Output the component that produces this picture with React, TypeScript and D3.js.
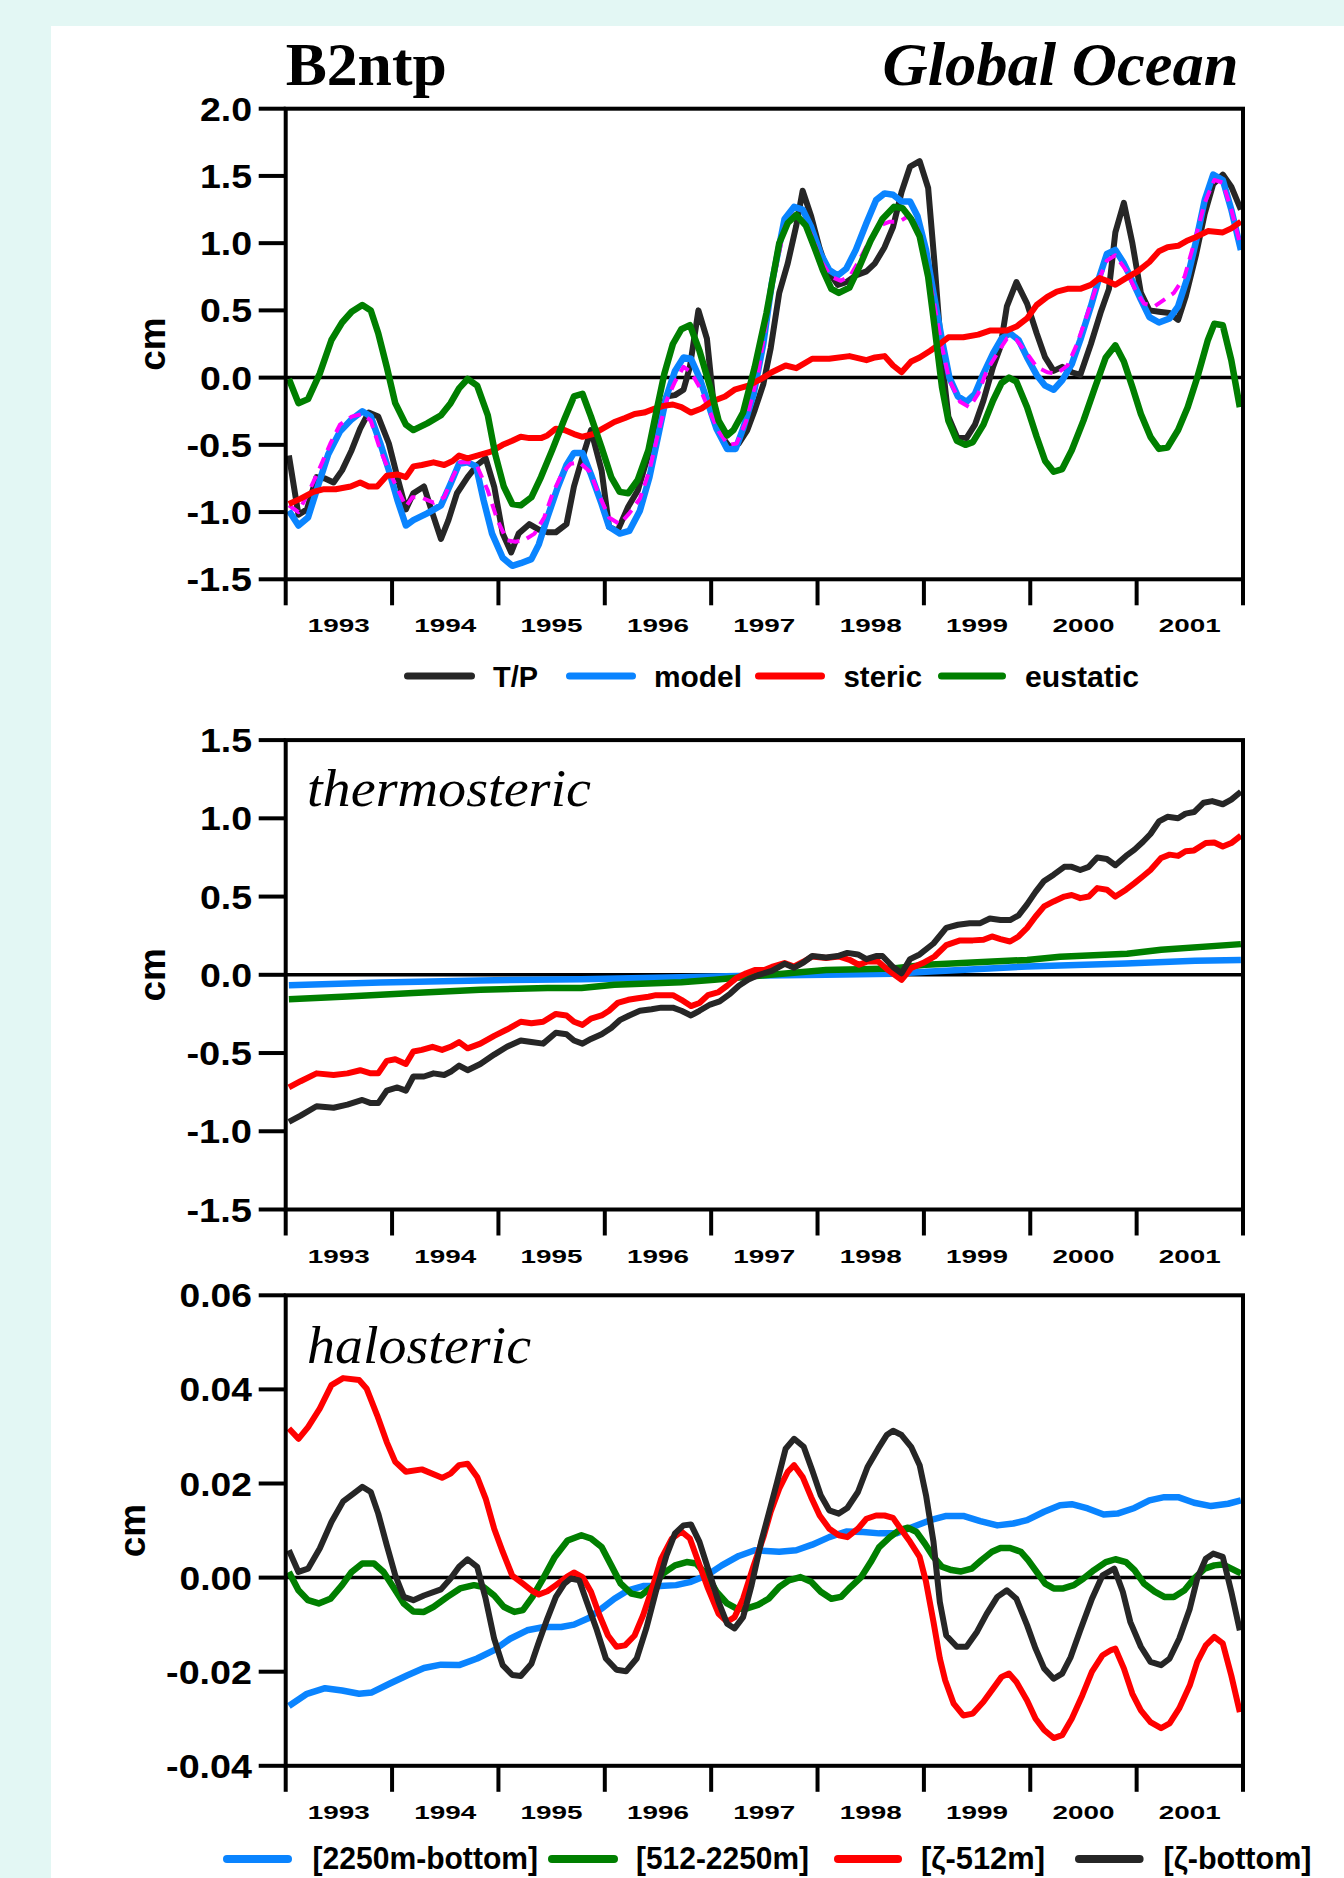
import React from "react";
import * as d3 from "d3";

type Pt = [number, number];

// ---------- shared axis data ----------
const yearLabels = [1993, 1994, 1995, 1996, 1997, 1998, 1999, 2000, 2001];
const yearTicks = [1993, 1994, 1995, 1996, 1997, 1998, 1999, 2000, 2001, 2002];
const p1Ticks = [-1.5, -1.0, -0.5, 0.0, 0.5, 1.0, 1.5, 2.0];
const p2Ticks = [-1.5, -1.0, -0.5, 0.0, 0.5, 1.0, 1.5];
const p3Ticks = [-0.04, -0.02, 0.0, 0.02, 0.04, 0.06];

// ---------- panel 1: B2ntp Global Ocean ----------
const p1TP: Pt[] = [[1993.03,-0.58],[1993.12,-1.02],[1993.20,-0.98],[1993.29,-0.74],[1993.37,-0.75],[1993.45,-0.78],[1993.53,-0.69],[1993.62,-0.54],[1993.70,-0.38],[1993.78,-0.26],[1993.87,-0.29],[1993.97,-0.49],[1994.05,-0.74],[1994.13,-0.98],[1994.20,-0.86],[1994.30,-0.81],[1994.38,-1.01],[1994.46,-1.20],[1994.53,-1.06],[1994.61,-0.86],[1994.71,-0.74],[1994.80,-0.65],[1994.88,-0.60],[1994.96,-0.81],[1995.04,-1.16],[1995.12,-1.30],[1995.19,-1.16],[1995.29,-1.09],[1995.38,-1.13],[1995.46,-1.15],[1995.54,-1.15],[1995.64,-1.09],[1995.71,-0.81],[1995.78,-0.62],[1995.87,-0.39],[1995.97,-0.69],[1996.04,-1.11],[1996.12,-1.14],[1996.22,-0.96],[1996.31,-0.84],[1996.41,-0.57],[1996.50,-0.32],[1996.58,-0.14],[1996.66,-0.13],[1996.74,-0.09],[1996.80,0.08],[1996.88,0.50],[1996.96,0.29],[1997.02,-0.17],[1997.10,-0.44],[1997.18,-0.52],[1997.26,-0.49],[1997.34,-0.39],[1997.41,-0.24],[1997.49,-0.05],[1997.56,0.22],[1997.64,0.63],[1997.72,0.85],[1997.80,1.13],[1997.86,1.39],[1997.94,1.20],[1998.02,0.96],[1998.09,0.80],[1998.19,0.69],[1998.27,0.71],[1998.36,0.76],[1998.46,0.79],[1998.54,0.85],[1998.63,0.97],[1998.71,1.12],[1998.79,1.38],[1998.87,1.57],[1998.96,1.61],[1999.04,1.41],[1999.10,0.85],[1999.17,0.13],[1999.23,-0.29],[1999.31,-0.44],[1999.40,-0.45],[1999.48,-0.35],[1999.56,-0.17],[1999.65,0.08],[1999.72,0.23],[1999.78,0.53],[1999.87,0.71],[1999.97,0.55],[2000.06,0.33],[2000.14,0.15],[2000.22,0.05],[2000.30,0.08],[2000.39,0.04],[2000.47,0.02],[2000.57,0.25],[2000.66,0.48],[2000.74,0.66],[2000.80,1.08],[2000.88,1.30],[2000.96,1.00],[2001.04,0.63],[2001.12,0.50],[2001.21,0.49],[2001.31,0.48],[2001.39,0.43],[2001.46,0.60],[2001.56,0.92],[2001.64,1.22],[2001.72,1.44],[2001.81,1.51],[2001.89,1.42],[2001.98,1.25]];

const p1Model: Pt[] = [[1993.03,-0.99],[1993.12,-1.10],[1993.21,-1.04],[1993.31,-0.79],[1993.40,-0.57],[1993.51,-0.40],[1993.62,-0.31],[1993.72,-0.25],[1993.80,-0.29],[1993.89,-0.49],[1993.97,-0.69],[1994.05,-0.91],[1994.13,-1.10],[1994.20,-1.06],[1994.33,-1.01],[1994.46,-0.95],[1994.55,-0.79],[1994.63,-0.64],[1994.71,-0.63],[1994.79,-0.66],[1994.86,-0.91],[1994.94,-1.16],[1995.04,-1.34],[1995.13,-1.40],[1995.21,-1.38],[1995.31,-1.35],[1995.38,-1.24],[1995.46,-1.04],[1995.56,-0.81],[1995.64,-0.65],[1995.71,-0.56],[1995.79,-0.56],[1995.87,-0.72],[1995.97,-0.94],[1996.04,-1.11],[1996.14,-1.16],[1996.23,-1.14],[1996.33,-0.99],[1996.42,-0.74],[1996.50,-0.44],[1996.58,-0.14],[1996.66,0.05],[1996.74,0.15],[1996.81,0.14],[1996.89,0.00],[1996.97,-0.19],[1997.05,-0.38],[1997.15,-0.53],[1997.23,-0.53],[1997.30,-0.38],[1997.40,-0.12],[1997.49,0.25],[1997.57,0.70],[1997.69,1.18],[1997.78,1.27],[1997.86,1.25],[1997.94,1.12],[1998.03,0.92],[1998.11,0.80],[1998.19,0.76],[1998.27,0.81],[1998.36,0.95],[1998.46,1.15],[1998.55,1.32],[1998.63,1.37],[1998.71,1.36],[1998.79,1.31],[1998.87,1.31],[1998.94,1.20],[1999.02,0.95],[1999.09,0.63],[1999.17,0.28],[1999.24,0.00],[1999.32,-0.14],[1999.40,-0.18],[1999.48,-0.12],[1999.56,0.03],[1999.65,0.18],[1999.73,0.29],[1999.81,0.33],[1999.89,0.28],[1999.97,0.15],[2000.06,0.02],[2000.14,-0.06],[2000.22,-0.09],[2000.30,-0.02],[2000.39,0.10],[2000.47,0.28],[2000.57,0.53],[2000.65,0.75],[2000.72,0.92],[2000.80,0.95],[2000.88,0.85],[2000.96,0.72],[2001.04,0.58],[2001.12,0.45],[2001.21,0.41],[2001.31,0.44],[2001.39,0.53],[2001.48,0.75],[2001.56,1.02],[2001.64,1.32],[2001.72,1.51],[2001.81,1.47],[2001.89,1.25],[2001.98,0.95]];

const p1Dashed: Pt[] = [[1993.03,-0.95],[1993.12,-1.00],[1993.21,-0.86],[1993.31,-0.69],[1993.42,-0.49],[1993.51,-0.35],[1993.62,-0.29],[1993.72,-0.27],[1993.80,-0.32],[1993.89,-0.54],[1993.98,-0.71],[1994.06,-0.84],[1994.13,-0.96],[1994.19,-0.89],[1994.27,-0.89],[1994.39,-0.93],[1994.49,-0.89],[1994.57,-0.74],[1994.64,-0.63],[1994.72,-0.63],[1994.80,-0.66],[1994.90,-0.84],[1994.99,-1.06],[1995.08,-1.21],[1995.16,-1.22],[1995.24,-1.21],[1995.34,-1.16],[1995.43,-1.04],[1995.51,-0.86],[1995.60,-0.71],[1995.68,-0.64],[1995.76,-0.63],[1995.86,-0.70],[1995.95,-0.88],[1996.04,-1.04],[1996.14,-1.09],[1996.23,-1.01],[1996.33,-0.90],[1996.42,-0.69],[1996.50,-0.42],[1996.58,-0.17],[1996.66,-0.03],[1996.74,0.08],[1996.81,0.04],[1996.89,-0.07],[1996.99,-0.26],[1997.07,-0.40],[1997.16,-0.50],[1997.24,-0.49],[1997.33,-0.32],[1997.44,0.03],[1997.57,0.67],[1997.69,1.12],[1997.78,1.21],[1997.87,1.17],[1997.95,1.05],[1998.03,0.87],[1998.13,0.75],[1998.22,0.72],[1998.31,0.76],[1998.39,0.87],[1998.49,1.02],[1998.58,1.13],[1998.68,1.16],[1998.77,1.16],[1998.85,1.20],[1998.93,1.13],[1999.01,0.90],[1999.09,0.58],[1999.17,0.23],[1999.24,-0.02],[1999.34,-0.18],[1999.43,-0.22],[1999.51,-0.12],[1999.59,0.05],[1999.69,0.18],[1999.78,0.29],[1999.87,0.28],[1999.97,0.18],[2000.06,0.08],[2000.16,0.04],[2000.25,0.03],[2000.35,0.09],[2000.44,0.25],[2000.54,0.48],[2000.63,0.70],[2000.72,0.87],[2000.80,0.91],[2000.90,0.80],[2000.99,0.65],[2001.07,0.55],[2001.17,0.53],[2001.26,0.58],[2001.35,0.63],[2001.45,0.75],[2001.54,1.00],[2001.64,1.30],[2001.73,1.47],[2001.81,1.45],[2001.89,1.25],[2001.98,0.97]];

const p1Steric: Pt[] = [[1993.03,-0.94],[1993.14,-0.90],[1993.26,-0.85],[1993.36,-0.83],[1993.47,-0.83],[1993.61,-0.81],[1993.70,-0.78],[1993.78,-0.81],[1993.86,-0.81],[1993.95,-0.73],[1994.05,-0.72],[1994.13,-0.74],[1994.20,-0.66],[1994.28,-0.65],[1994.39,-0.63],[1994.49,-0.65],[1994.57,-0.62],[1994.63,-0.58],[1994.71,-0.60],[1994.80,-0.58],[1994.93,-0.55],[1995.04,-0.50],[1995.13,-0.47],[1995.21,-0.44],[1995.29,-0.45],[1995.40,-0.45],[1995.46,-0.43],[1995.54,-0.38],[1995.62,-0.39],[1995.71,-0.42],[1995.79,-0.44],[1995.89,-0.42],[1995.98,-0.38],[1996.09,-0.33],[1996.19,-0.30],[1996.28,-0.27],[1996.37,-0.26],[1996.47,-0.23],[1996.55,-0.21],[1996.64,-0.20],[1996.72,-0.22],[1996.81,-0.26],[1996.91,-0.23],[1997.00,-0.18],[1997.13,-0.14],[1997.22,-0.09],[1997.35,-0.06],[1997.47,-0.01],[1997.57,0.04],[1997.70,0.09],[1997.80,0.07],[1997.95,0.14],[1998.11,0.14],[1998.30,0.16],[1998.46,0.13],[1998.54,0.15],[1998.63,0.16],[1998.71,0.09],[1998.79,0.04],[1998.88,0.12],[1998.96,0.15],[1999.06,0.20],[1999.15,0.25],[1999.23,0.30],[1999.37,0.30],[1999.51,0.32],[1999.62,0.35],[1999.78,0.35],[1999.87,0.38],[1999.97,0.44],[2000.06,0.54],[2000.16,0.60],[2000.25,0.64],[2000.35,0.66],[2000.47,0.66],[2000.57,0.69],[2000.65,0.74],[2000.72,0.72],[2000.80,0.69],[2000.90,0.74],[2001.01,0.79],[2001.12,0.86],[2001.21,0.94],[2001.29,0.97],[2001.39,0.98],[2001.48,1.02],[2001.57,1.05],[2001.67,1.09],[2001.81,1.08],[2001.89,1.11],[2001.98,1.16]];

const p1Eustatic: Pt[] = [[1993.03,-0.01],[1993.12,-0.19],[1993.21,-0.16],[1993.32,0.03],[1993.43,0.28],[1993.53,0.41],[1993.62,0.49],[1993.72,0.54],[1993.80,0.50],[1993.87,0.33],[1993.95,0.08],[1994.03,-0.19],[1994.13,-0.35],[1994.20,-0.39],[1994.33,-0.34],[1994.46,-0.28],[1994.55,-0.19],[1994.63,-0.08],[1994.71,-0.01],[1994.80,-0.06],[1994.90,-0.28],[1994.97,-0.57],[1995.05,-0.81],[1995.13,-0.94],[1995.21,-0.95],[1995.31,-0.89],[1995.40,-0.74],[1995.51,-0.53],[1995.62,-0.31],[1995.71,-0.14],[1995.79,-0.12],[1995.87,-0.29],[1995.97,-0.52],[1996.06,-0.74],[1996.14,-0.85],[1996.22,-0.86],[1996.31,-0.76],[1996.41,-0.54],[1996.48,-0.27],[1996.56,0.03],[1996.64,0.25],[1996.72,0.36],[1996.80,0.39],[1996.89,0.20],[1996.99,-0.07],[1997.07,-0.32],[1997.15,-0.43],[1997.21,-0.39],[1997.30,-0.26],[1997.41,0.08],[1997.52,0.48],[1997.64,1.00],[1997.72,1.15],[1997.80,1.21],[1997.89,1.13],[1997.97,0.97],[1998.05,0.80],[1998.13,0.66],[1998.20,0.63],[1998.30,0.67],[1998.39,0.82],[1998.50,1.02],[1998.61,1.18],[1998.72,1.27],[1998.80,1.26],[1998.88,1.18],[1998.96,1.05],[1999.04,0.75],[1999.10,0.38],[1999.17,-0.07],[1999.23,-0.32],[1999.31,-0.47],[1999.39,-0.50],[1999.46,-0.48],[1999.56,-0.35],[1999.65,-0.17],[1999.73,-0.04],[1999.80,0.00],[1999.87,-0.03],[1999.97,-0.22],[2000.06,-0.44],[2000.14,-0.62],[2000.22,-0.70],[2000.30,-0.68],[2000.39,-0.54],[2000.50,-0.32],[2000.61,-0.07],[2000.71,0.15],[2000.80,0.24],[2000.88,0.12],[2000.96,-0.07],[2001.04,-0.27],[2001.13,-0.44],[2001.21,-0.53],[2001.29,-0.52],[2001.39,-0.39],[2001.48,-0.22],[2001.57,0.00],[2001.67,0.28],[2001.73,0.40],[2001.81,0.39],[2001.89,0.13],[2001.97,-0.22]];

// ---------- panel 2: thermosteric ----------
const p2Deep: Pt[] = [[1993.03,-0.066],[1993.89,-0.049],[1994.83,-0.036],[1995.78,-0.028],[1996.72,-0.015],[1997.35,-0.006],[1998.08,0.0],[1998.71,0.006],[1999.02,0.02],[1999.97,0.053],[2000.90,0.072],[2001.55,0.09],[2001.98,0.095]];
const p2Mid: Pt[] = [[1993.03,-0.156],[1993.58,-0.139],[1994.20,-0.117],[1994.83,-0.096],[1995.46,-0.085],[1995.78,-0.085],[1996.09,-0.064],[1996.72,-0.047],[1997.03,-0.032],[1997.45,-0.006],[1998.08,0.03],[1998.71,0.04],[1999.02,0.065],[1999.97,0.095],[2000.28,0.115],[2000.91,0.135],[2001.23,0.16],[2001.98,0.196]];
const p2Upper: Pt[] = [[1993.03,-0.72],[1993.14,-0.68],[1993.29,-0.63],[1993.45,-0.64],[1993.58,-0.63],[1993.70,-0.61],[1993.80,-0.63],[1993.87,-0.63],[1993.95,-0.55],[1994.03,-0.54],[1994.13,-0.57],[1994.20,-0.49],[1994.28,-0.48],[1994.38,-0.46],[1994.47,-0.48],[1994.55,-0.46],[1994.63,-0.43],[1994.71,-0.47],[1994.83,-0.44],[1994.96,-0.39],[1995.08,-0.35],[1995.21,-0.30],[1995.31,-0.31],[1995.42,-0.30],[1995.54,-0.25],[1995.64,-0.26],[1995.71,-0.30],[1995.79,-0.32],[1995.87,-0.28],[1995.97,-0.26],[1996.04,-0.23],[1996.12,-0.18],[1996.22,-0.16],[1996.31,-0.15],[1996.41,-0.14],[1996.48,-0.13],[1996.56,-0.13],[1996.64,-0.13],[1996.72,-0.16],[1996.81,-0.20],[1996.89,-0.18],[1996.97,-0.13],[1997.07,-0.11],[1997.15,-0.07],[1997.24,-0.02],[1997.33,0.01],[1997.41,0.03],[1997.50,0.03],[1997.57,0.05],[1997.69,0.075],[1997.78,0.053],[1997.87,0.085],[1997.95,0.117],[1998.08,0.107],[1998.20,0.117],[1998.30,0.096],[1998.39,0.064],[1998.47,0.085],[1998.57,0.085],[1998.66,0.032],[1998.79,-0.032],[1998.88,0.043],[1998.99,0.075],[1999.10,0.117],[1999.21,0.19],[1999.34,0.22],[1999.46,0.22],[1999.56,0.224],[1999.64,0.245],[1999.72,0.228],[1999.81,0.213],[1999.89,0.245],[1999.97,0.30],[2000.05,0.373],[2000.13,0.437],[2000.22,0.469],[2000.32,0.50],[2000.39,0.51],[2000.47,0.49],[2000.55,0.50],[2000.63,0.554],[2000.72,0.544],[2000.80,0.50],[2000.90,0.544],[2000.98,0.586],[2001.06,0.63],[2001.13,0.67],[2001.23,0.746],[2001.31,0.768],[2001.39,0.76],[2001.46,0.79],[2001.54,0.795],[2001.65,0.842],[2001.73,0.846],[2001.81,0.82],[2001.89,0.842],[2001.98,0.89]];
const p2Total: Pt[] = [[1993.03,-0.94],[1993.14,-0.90],[1993.29,-0.84],[1993.45,-0.85],[1993.58,-0.83],[1993.72,-0.80],[1993.80,-0.82],[1993.87,-0.82],[1993.95,-0.74],[1994.05,-0.72],[1994.13,-0.74],[1994.20,-0.65],[1994.30,-0.65],[1994.39,-0.63],[1994.49,-0.64],[1994.55,-0.62],[1994.63,-0.58],[1994.71,-0.61],[1994.83,-0.57],[1994.96,-0.51],[1995.08,-0.46],[1995.21,-0.42],[1995.31,-0.43],[1995.42,-0.44],[1995.54,-0.37],[1995.64,-0.38],[1995.71,-0.42],[1995.79,-0.44],[1995.87,-0.41],[1995.97,-0.38],[1996.06,-0.34],[1996.14,-0.29],[1996.23,-0.26],[1996.33,-0.23],[1996.44,-0.22],[1996.53,-0.21],[1996.64,-0.21],[1996.72,-0.23],[1996.81,-0.26],[1996.89,-0.23],[1996.99,-0.19],[1997.08,-0.17],[1997.18,-0.12],[1997.26,-0.07],[1997.35,-0.03],[1997.45,0.0],[1997.57,0.025],[1997.69,0.07],[1997.78,0.045],[1997.87,0.08],[1997.95,0.12],[1998.08,0.11],[1998.19,0.12],[1998.28,0.14],[1998.38,0.13],[1998.46,0.10],[1998.55,0.12],[1998.61,0.12],[1998.71,0.05],[1998.79,0.01],[1998.87,0.10],[1998.96,0.13],[1999.09,0.20],[1999.21,0.30],[1999.32,0.32],[1999.43,0.33],[1999.53,0.33],[1999.62,0.36],[1999.72,0.35],[1999.81,0.35],[1999.89,0.38],[1999.97,0.45],[2000.05,0.53],[2000.13,0.60],[2000.22,0.64],[2000.32,0.69],[2000.39,0.69],[2000.47,0.67],[2000.55,0.69],[2000.63,0.75],[2000.72,0.74],[2000.80,0.70],[2000.90,0.76],[2000.98,0.80],[2001.06,0.85],[2001.13,0.90],[2001.21,0.98],[2001.29,1.01],[2001.39,1.00],[2001.46,1.03],[2001.54,1.04],[2001.63,1.10],[2001.71,1.11],[2001.81,1.09],[2001.89,1.12],[2001.98,1.17]];

// ---------- panel 3: halosteric ----------
const p3Deep: Pt[] = [[1993.03,-0.0273],[1993.20,-0.0247],[1993.37,-0.0235],[1993.53,-0.024],[1993.69,-0.0247],[1993.81,-0.0244],[1993.98,-0.0225],[1994.14,-0.0208],[1994.30,-0.0192],[1994.46,-0.0185],[1994.63,-0.0186],[1994.80,-0.0172],[1994.96,-0.0154],[1995.11,-0.013],[1995.27,-0.0112],[1995.43,-0.0105],[1995.59,-0.0105],[1995.71,-0.01],[1995.84,-0.0087],[1995.97,-0.0066],[1996.09,-0.0045],[1996.22,-0.0027],[1996.36,-0.0018],[1996.52,-0.0018],[1996.67,-0.0016],[1996.81,-0.0009],[1996.96,0.0005],[1997.10,0.0026],[1997.26,0.0046],[1997.41,0.0058],[1997.64,0.0055],[1997.80,0.0058],[1997.95,0.007],[1998.11,0.0086],[1998.27,0.0098],[1998.43,0.0097],[1998.58,0.0094],[1998.74,0.0094],[1998.90,0.0108],[1999.06,0.0122],[1999.21,0.0131],[1999.37,0.0131],[1999.53,0.012],[1999.69,0.0111],[1999.84,0.0115],[1999.97,0.0122],[2000.13,0.014],[2000.28,0.0154],[2000.39,0.0156],[2000.54,0.0147],[2000.69,0.0134],[2000.82,0.0136],[2000.98,0.0148],[2001.12,0.0164],[2001.26,0.0171],[2001.39,0.0171],[2001.54,0.0159],[2001.70,0.0152],[2001.86,0.0157],[2001.98,0.0164]];
const p3Mid: Pt[] = [[1993.03,0.0012],[1993.12,-0.0027],[1993.21,-0.0048],[1993.31,-0.0055],[1993.42,-0.0045],[1993.53,-0.0016],[1993.62,0.0012],[1993.72,0.003],[1993.83,0.003],[1993.92,0.0012],[1994.02,-0.0023],[1994.11,-0.0055],[1994.20,-0.0072],[1994.30,-0.0073],[1994.39,-0.0062],[1994.52,-0.0041],[1994.64,-0.0023],[1994.77,-0.0016],[1994.86,-0.002],[1994.96,-0.0038],[1995.05,-0.0062],[1995.15,-0.0073],[1995.23,-0.0069],[1995.32,-0.0041],[1995.42,-0.0002],[1995.53,0.0044],[1995.65,0.0079],[1995.78,0.009],[1995.87,0.0083],[1995.97,0.0065],[1996.06,0.0026],[1996.15,-0.0013],[1996.25,-0.0034],[1996.34,-0.0038],[1996.44,-0.002],[1996.55,0.0009],[1996.66,0.0026],[1996.77,0.0033],[1996.86,0.003],[1996.96,0.0005],[1997.05,-0.003],[1997.15,-0.0055],[1997.24,-0.0066],[1997.33,-0.0066],[1997.44,-0.0058],[1997.54,-0.0045],[1997.64,-0.002],[1997.73,-0.0006],[1997.84,0.0001],[1997.94,-0.0009],[1998.03,-0.003],[1998.13,-0.0045],[1998.22,-0.0041],[1998.31,-0.002],[1998.41,0.0001],[1998.50,0.0033],[1998.58,0.0065],[1998.68,0.0086],[1998.77,0.0101],[1998.85,0.0106],[1998.93,0.0097],[1999.01,0.0072],[1999.09,0.0044],[1999.17,0.0023],[1999.26,0.0016],[1999.35,0.0013],[1999.45,0.0019],[1999.54,0.0037],[1999.64,0.0055],[1999.72,0.0063],[1999.81,0.0063],[1999.91,0.0055],[1999.98,0.0037],[2000.06,0.0012],[2000.14,-0.0013],[2000.22,-0.0023],[2000.31,-0.0023],[2000.41,-0.0016],[2000.50,-0.0002],[2000.60,0.0016],[2000.71,0.0033],[2000.80,0.0039],[2000.90,0.0033],[2000.98,0.0016],[2001.07,-0.0013],[2001.17,-0.003],[2001.26,-0.0041],[2001.35,-0.0041],[2001.45,-0.0027],[2001.54,-0.0002],[2001.64,0.0019],[2001.73,0.0026],[2001.81,0.0028],[2001.89,0.0019],[2001.98,0.0009]];
const p3Upper: Pt[] = [[1993.03,0.0317],[1993.12,0.0295],[1993.21,0.032],[1993.32,0.0359],[1993.43,0.0409],[1993.54,0.0424],[1993.69,0.042],[1993.76,0.0402],[1993.86,0.0345],[1993.95,0.0288],[1994.03,0.0246],[1994.13,0.0225],[1994.28,0.023],[1994.47,0.0212],[1994.55,0.0221],[1994.63,0.0239],[1994.71,0.0242],[1994.80,0.0214],[1994.88,0.0168],[1994.96,0.0104],[1995.04,0.0055],[1995.13,0.0004],[1995.23,-0.0013],[1995.31,-0.0027],[1995.38,-0.0036],[1995.46,-0.0029],[1995.54,-0.0016],[1995.64,0.0001],[1995.71,0.0011],[1995.79,0.0001],[1995.87,-0.003],[1995.95,-0.008],[1996.03,-0.0123],[1996.11,-0.0147],[1996.19,-0.0144],[1996.28,-0.0123],[1996.36,-0.008],[1996.44,-0.0027],[1996.53,0.004],[1996.63,0.0083],[1996.72,0.0098],[1996.80,0.0083],[1996.88,0.0033],[1996.97,-0.0023],[1997.07,-0.0077],[1997.15,-0.0094],[1997.22,-0.0084],[1997.30,-0.0045],[1997.40,0.0026],[1997.49,0.0085],[1997.56,0.014],[1997.64,0.0189],[1997.72,0.0225],[1997.78,0.0239],[1997.86,0.0214],[1997.94,0.0171],[1998.02,0.0132],[1998.11,0.0104],[1998.20,0.009],[1998.28,0.0086],[1998.38,0.0104],[1998.46,0.0125],[1998.55,0.0132],[1998.63,0.0132],[1998.71,0.0127],[1998.79,0.0101],[1998.87,0.0076],[1998.96,0.0044],[1999.02,-0.0009],[1999.09,-0.0094],[1999.15,-0.0172],[1999.20,-0.0218],[1999.28,-0.0268],[1999.37,-0.0293],[1999.46,-0.0289],[1999.56,-0.0264],[1999.65,-0.0236],[1999.73,-0.0211],[1999.80,-0.0204],[1999.87,-0.0222],[1999.97,-0.0261],[2000.05,-0.030],[2000.13,-0.0324],[2000.22,-0.0341],[2000.30,-0.0335],[2000.39,-0.030],[2000.49,-0.025],[2000.58,-0.020],[2000.68,-0.0165],[2000.76,-0.0154],[2000.80,-0.0151],[2000.88,-0.0193],[2000.96,-0.0247],[2001.04,-0.0282],[2001.13,-0.0307],[2001.23,-0.032],[2001.31,-0.031],[2001.40,-0.0278],[2001.50,-0.0229],[2001.57,-0.0179],[2001.65,-0.0144],[2001.73,-0.0126],[2001.81,-0.014],[2001.89,-0.0208],[2001.97,-0.0286]];
const p3Total: Pt[] = [[1993.03,0.0058],[1993.12,0.0012],[1993.21,0.0019],[1993.32,0.0062],[1993.43,0.0118],[1993.54,0.0162],[1993.64,0.0179],[1993.72,0.0193],[1993.80,0.0182],[1993.87,0.0136],[1993.95,0.0069],[1994.03,0.0005],[1994.11,-0.0041],[1994.20,-0.0048],[1994.30,-0.0038],[1994.46,-0.0025],[1994.55,-0.0002],[1994.63,0.0023],[1994.71,0.0039],[1994.80,0.0023],[1994.88,-0.0045],[1994.96,-0.013],[1995.04,-0.0186],[1995.13,-0.0207],[1995.21,-0.0209],[1995.31,-0.0183],[1995.38,-0.0137],[1995.46,-0.0087],[1995.54,-0.0041],[1995.62,-0.0013],[1995.68,-0.0002],[1995.76,-0.0006],[1995.82,-0.0045],[1995.92,-0.0108],[1996.01,-0.0172],[1996.11,-0.0196],[1996.20,-0.0199],[1996.30,-0.0172],[1996.39,-0.0108],[1996.48,-0.003],[1996.58,0.0047],[1996.66,0.0094],[1996.74,0.0111],[1996.81,0.0113],[1996.89,0.0076],[1996.99,0.0005],[1997.07,-0.0052],[1997.15,-0.0098],[1997.22,-0.0108],[1997.30,-0.0084],[1997.38,-0.0016],[1997.47,0.0076],[1997.54,0.0135],[1997.62,0.0203],[1997.70,0.0274],[1997.78,0.0295],[1997.87,0.0278],[1997.95,0.0228],[1998.03,0.0175],[1998.11,0.0143],[1998.20,0.0136],[1998.28,0.0148],[1998.38,0.0182],[1998.47,0.0235],[1998.57,0.0274],[1998.65,0.0303],[1998.71,0.0312],[1998.79,0.0303],[1998.88,0.0278],[1998.96,0.0239],[1999.02,0.0175],[1999.09,0.0076],[1999.15,-0.0052],[1999.21,-0.0123],[1999.31,-0.0147],[1999.40,-0.0147],[1999.50,-0.0115],[1999.59,-0.0077],[1999.69,-0.0041],[1999.78,-0.0027],[1999.87,-0.0045],[1999.97,-0.0101],[2000.05,-0.0151],[2000.13,-0.0193],[2000.22,-0.0215],[2000.30,-0.0204],[2000.38,-0.0169],[2000.47,-0.0112],[2000.58,-0.0045],[2000.68,0.0005],[2000.79,0.0019],[2000.87,-0.003],[2000.94,-0.0094],[2001.04,-0.0147],[2001.13,-0.0179],[2001.23,-0.0186],[2001.31,-0.0172],[2001.40,-0.013],[2001.50,-0.0066],[2001.57,-0.0002],[2001.65,0.004],[2001.72,0.0051],[2001.81,0.0044],[2001.89,-0.003],[2001.97,-0.0112]];

// ---------- legends ----------
const legend1Names = ["T/P", "model", "steric", "eustatic"];
const legend3Names = ["[2250m-bottom]", "[512-2250m]", "[\u03B6-512m]", "[\u03B6-bottom]"];

// ---------- styling / layout ----------
const C_BLACK = "#262626";
const C_BLUE = "#0a84ff";
const C_RED = "#ff0000";
const C_GREEN = "#007f00";
const C_MAG = "#ff00ff";
const BG = "#e3f7f4";

const X0 = 285.7;
const X1 = 1243;
const x = d3.scaleLinear().domain([1993, 2002]).range([X0, X1]);

type Series = { data: Pt[]; color: string; width: number; dash?: string };

function charW(s: string) {
  let w = 0;
  for (const c of s) w += c === "." ? 11.5 : c === "-" ? 13.5 : 20.3;
  return w;
}

function Panel(props: {
  top: number;
  bottom: number;
  domain: [number, number];
  ticks: number[];
  fmt: (v: number) => string;
  series: Series[];
  cmX: number;
  label?: string;
  labelY?: number;
  labelLen?: number;
}) {
  const { top, bottom, domain, ticks, fmt, series, cmX, label, labelY, labelLen } = props;
  const y = d3.scaleLinear().domain(domain).range([bottom, top]);
  const line = d3
    .line<Pt>()
    .x((d) => x(d[0]))
    .y((d) => y(d[1]))
    .curve(d3.curveLinear);
  const mid = (top + bottom) / 2;
  return (
    <g>
      {label && (
        <text
          x={307}
          y={labelY}
          fontFamily="'Liberation Serif', 'Times New Roman', serif"
          fontStyle="italic"
          fontSize={53}
          textLength={labelLen}
          lengthAdjust="spacingAndGlyphs"
          fill="#000"
        >
          {label}
        </text>
      )}
      <line x1={X0} x2={X1} y1={y(0)} y2={y(0)} stroke="#000" strokeWidth={3.5} />
      {series.map((s, i) => (
        <path
          key={i}
          d={line(s.data) || ""}
          fill="none"
          stroke={s.color}
          strokeWidth={s.width}
          strokeDasharray={s.dash}
          strokeLinejoin="round"
        />
      ))}
      <rect x={X0} y={top} width={X1 - X0} height={bottom - top} fill="none" stroke="#000" strokeWidth={4} />
      {ticks.map((t) => {
        const s = fmt(t);
        return (
          <g key={"y" + t}>
            <line x1={X0 - 27} x2={X0} y1={y(t)} y2={y(t)} stroke="#000" strokeWidth={4} />
            <text
              x={252}
              y={y(t) + 12}
              textAnchor="end"
              fontFamily="'Liberation Sans', Arial, sans-serif"
              fontWeight="bold"
              fontSize={33}
              textLength={charW(s)}
              lengthAdjust="spacingAndGlyphs"
              fill="#000"
            >
              {s}
            </text>
          </g>
        );
      })}
      {yearTicks.map((t) => (
        <line key={"x" + t} x1={x(t)} x2={x(t)} y1={bottom} y2={bottom + 26} stroke="#000" strokeWidth={4} />
      ))}
      {yearLabels.map((t) => (
        <text
          key={"l" + t}
          x={x(t + 0.5) - 31}
          y={bottom + 53}
          fontFamily="'Liberation Sans', Arial, sans-serif"
          fontWeight="bold"
          fontSize={19}
          textLength={62}
          lengthAdjust="spacingAndGlyphs"
          fill="#000"
        >
          {t}
        </text>
      ))}
      <text
        transform={`translate(${cmX},${mid}) rotate(-90)`}
        textAnchor="middle"
        fontFamily="'Liberation Sans', Arial, sans-serif"
        fontWeight="bold"
        fontSize={37}
        fill="#000"
      >
        cm
      </text>
    </g>
  );
}

export default function App() {
  const f1 = (v: number) => d3.format(".1f")(v).replace("\u2212", "-");
  const f2 = (v: number) => d3.format(".2f")(v).replace("\u2212", "-");
  const leg1 = [
    { x1: 404, x2: 475, tx: 493, tl: 45, color: C_BLACK },
    { x1: 566, x2: 636, tx: 654, tl: 88, color: C_BLUE },
    { x1: 755, x2: 825, tx: 843.5, tl: 78.5, color: C_RED },
    { x1: 938, x2: 1006, tx: 1025, tl: 114, color: C_GREEN },
  ];
  const leg3 = [
    { x1: 223, x2: 292, tx: 312.5, tl: 225.5, color: C_BLUE },
    { x1: 548, x2: 618, tx: 636, tl: 173, color: C_GREEN },
    { x1: 834, x2: 902, tx: 921, tl: 124, color: C_RED },
    { x1: 1075, x2: 1143.6, tx: 1163.5, tl: 148, color: C_BLACK },
  ];
  return (
    <svg
      width={1344}
      height={1878}
      style={{ position: "absolute", left: 0, top: 0, display: "block" }}
      xmlns="http://www.w3.org/2000/svg"
    >
      <rect x={0} y={0} width={1344} height={1878} fill={BG} />
      <rect x={51} y={26} width={1293} height={1852} fill="#fff" />

      <text
        x={285.7}
        y={85}
        fontFamily="'Liberation Serif', 'Times New Roman', serif"
        fontWeight="bold"
        fontSize={62}
        textLength={161}
        lengthAdjust="spacingAndGlyphs"
        fill="#000"
      >
        B2ntp
      </text>
      <text
        x={882.5}
        y={85}
        fontFamily="'Liberation Serif', 'Times New Roman', serif"
        fontWeight="bold"
        fontStyle="italic"
        fontSize={62}
        textLength={356}
        lengthAdjust="spacingAndGlyphs"
        fill="#000"
      >
        Global Ocean
      </text>

      <Panel
        top={108.7}
        bottom={579.3}
        domain={[-1.5, 2.0]}
        ticks={p1Ticks}
        fmt={f1}
        cmX={165}
        series={[
          { data: p1TP, color: C_BLACK, width: 6 },
          { data: p1Model, color: C_BLUE, width: 6.5 },
          { data: p1Dashed, color: C_MAG, width: 4, dash: "12 8" },
          { data: p1Steric, color: C_RED, width: 6 },
          { data: p1Eustatic, color: C_GREEN, width: 6.5 },
        ]}
      />

      {leg1.map((l, i) => (
        <g key={"lg1" + i}>
          <line x1={l.x1 + 3.5} x2={l.x2 - 3.5} y1={676} y2={676} stroke={l.color} strokeWidth={7} strokeLinecap="round" />
          <text
            x={l.tx}
            y={687}
            fontFamily="'Liberation Sans', Arial, sans-serif"
            fontWeight="bold"
            fontSize={30}
            textLength={l.tl}
            lengthAdjust="spacingAndGlyphs"
            fill="#000"
          >
            {legend1Names[i]}
          </text>
        </g>
      ))}

      <Panel
        top={740.1}
        bottom={1209.5}
        domain={[-1.5, 1.5]}
        ticks={p2Ticks}
        fmt={f1}
        cmX={165}
        label="thermosteric"
        labelY={806}
        labelLen={284}
        series={[
          { data: p2Deep, color: C_BLUE, width: 6.5 },
          { data: p2Mid, color: C_GREEN, width: 6.5 },
          { data: p2Upper, color: C_RED, width: 6 },
          { data: p2Total, color: C_BLACK, width: 6 },
        ]}
      />

      <Panel
        top={1295.3}
        bottom={1765.8}
        domain={[-0.04, 0.06]}
        ticks={p3Ticks}
        fmt={f2}
        cmX={145}
        label="halosteric"
        labelY={1363}
        labelLen={224}
        series={[
          { data: p3Deep, color: C_BLUE, width: 6.5 },
          { data: p3Mid, color: C_GREEN, width: 6.5 },
          { data: p3Upper, color: C_RED, width: 6 },
          { data: p3Total, color: C_BLACK, width: 6 },
        ]}
      />

      {leg3.map((l, i) => (
        <g key={"lg3" + i}>
          <line x1={l.x1 + 4} x2={l.x2 - 4} y1={1859} y2={1859} stroke={l.color} strokeWidth={8} strokeLinecap="round" />
          <text
            x={l.tx}
            y={1869}
            fontFamily="'Liberation Sans', Arial, sans-serif"
            fontWeight="bold"
            fontSize={31}
            textLength={l.tl}
            lengthAdjust="spacingAndGlyphs"
            fill="#000"
          >
            {legend3Names[i]}
          </text>
        </g>
      ))}
    </svg>
  );
}
